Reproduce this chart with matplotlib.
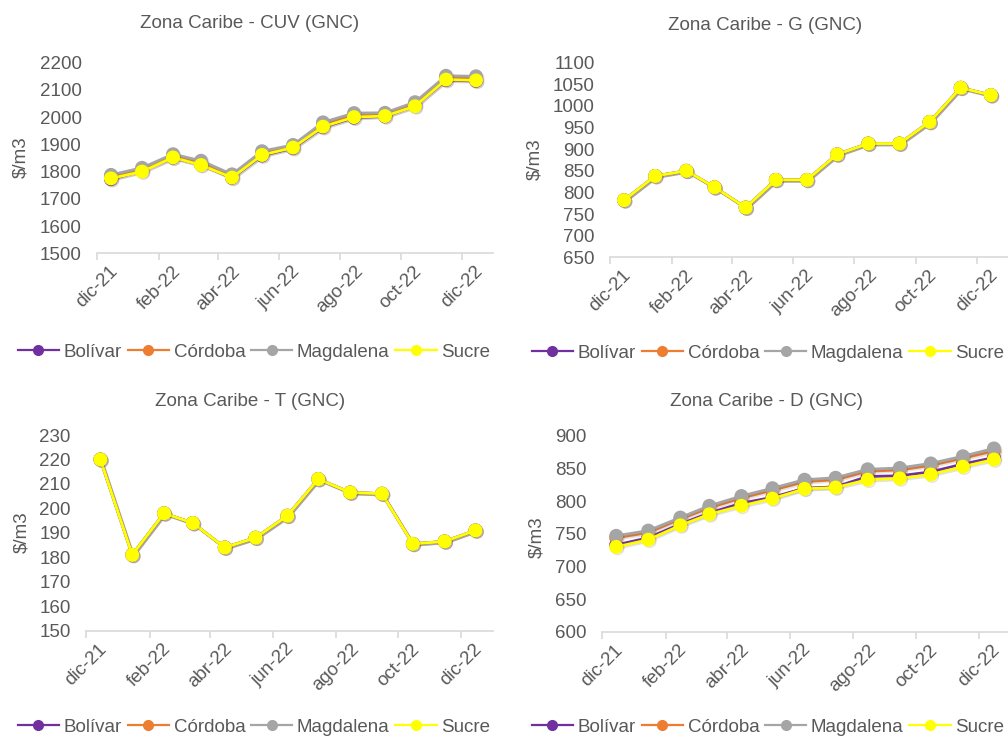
import matplotlib.pyplot as plt
import matplotlib.patheffects as pe
from matplotlib.lines import Line2D
import pandas as pd

plt.rcParams['font.family'] = ['Liberation Sans', 'DejaVu Sans']

# Months (mid-month points) and tick positions
months = pd.to_datetime(["2021-12-15", "2022-01-15", "2022-02-15", "2022-03-15", "2022-04-15",
                         "2022-05-15", "2022-06-15", "2022-07-15", "2022-08-15", "2022-09-15",
                         "2022-10-15", "2022-11-15", "2022-12-15"])
tick_dates = pd.to_datetime(["2021-12-01", "2022-02-01", "2022-04-01", "2022-06-01",
                             "2022-08-01", "2022-10-01", "2022-12-01"])
tick_labels = ["dic-21", "feb-22", "abr-22", "jun-22", "ago-22", "oct-22", "dic-22"]

departments = ["Bolívar", "Córdoba", "Magdalena", "Sucre"]
colors = ["#7030A0", "#ED7D31", "#A5A5A5", "#FFFF00"]

# CUV
cuv_bolivar = [1772, 1803, 1851, 1825, 1777, 1859, 1886, 1963, 1998, 2003, 2041, 2136, 2133]
cuv_cordoba = [1781, 1808, 1858, 1832, 1784, 1868, 1893, 1974, 2008, 2010, 2048, 2145, 2142]
cuv_magdalena = [1788, 1814, 1864, 1840, 1790, 1875, 1898, 1981, 2015, 2016, 2055, 2152, 2150]
cuv_sucre = [1775, 1800, 1852, 1824, 1778, 1861, 1888, 1965, 2000, 2004, 2040, 2138, 2135]

# G (same for all departments)
g_vals = [782, 838, 850, 812, 765, 829, 829, 888, 913, 913, 963, 1042, 1025]

# T (same for all departments)
t_vals = [220, 181, 198, 194, 184, 188, 197, 212, 206.5, 206, 185.5, 186.5, 191]

# D
d_bolivar = [733, 744, 765, 782, 797, 806, 820, 822, 838, 839, 845, 857, 867]
d_cordoba = [744, 752, 773, 790, 805, 817, 830, 833, 846, 848, 855, 866, 877]
d_magdalena = [747, 755, 775, 793, 808, 820, 833, 836, 849, 851, 858, 869, 881]
d_sucre = [730, 741, 763, 780, 793, 804, 819, 821, 833, 835, 841, 853, 864]

W, H = 1008, 738
fig = plt.figure(figsize=(W / 100, H / 100), dpi=100)
text_color = "#595959"
fs = 13.5

charts = [
    # title, series, yticks, axes px (left, right, top, bottom), title px, ylabel px, legend px
    ("Zona Caribe - CUV (GNC)", [cuv_bolivar, cuv_cordoba, cuv_magdalena, cuv_sucre],
     list(range(1500, 2201, 100)), (97, 493, 62.7, 253.3), (250, 23), (21, 157), (254, 352)),
    ("Zona Caribe - G (GNC)", [g_vals, g_vals, g_vals, g_vals],
     list(range(650, 1101, 50)), (610, 1008, 62.7, 257.3), (765, 26), (535, 159), (768, 353)),
    ("Zona Caribe - T (GNC)", [t_vals, t_vals, t_vals, t_vals],
     list(range(150, 231, 10)), (86, 493, 435, 630.7), (250, 402), (22, 532), (254, 727)),
    ("Zona Caribe - D (GNC)", [d_bolivar, d_cordoba, d_magdalena, d_sucre],
     list(range(600, 901, 50)), (601.7, 1011.5, 436, 631.7), (766, 402), (537, 537), (768, 727)),
]

shadow = [pe.SimpleLineShadow(offset=(1.0, -1.0), shadow_color="#6b5a4a", alpha=0.18), pe.Normal()]

legend_handles = [Line2D([], [], color=c, lw=1.6, marker="o", markersize=7,
                         markerfacecolor=c, markeredgecolor=c) for c in colors]

for title, series, yticks, (l, r, t, b), (tx, ty), (lx, ly), (gx, gy) in charts:
    ax = fig.add_axes([l / W, 1 - b / H, (r - l) / W, (b - t) / H])
    for name, vals, c in zip(departments, series, colors):
        ax.plot(months, vals, color=c, lw=2, marker="o", markersize=9,
                markerfacecolor=c, markeredgecolor=c, label=name, path_effects=shadow)
    ax.set_ylim(yticks[0], yticks[-1])
    ax.set_yticks(yticks)
    ax.set_xlim(pd.Timestamp("2021-12-01"), pd.Timestamp("2023-01-01"))
    ax.set_xticks(tick_dates)
    ax.set_xticklabels(tick_labels, rotation=45)
    for s in ["left", "right", "top"]:
        ax.spines[s].set_visible(False)
    ax.spines["bottom"].set_color("#D9D9D9")
    ax.spines["bottom"].set_linewidth(1.2)
    ax.tick_params(axis="y", length=0, pad=11, labelsize=fs, labelcolor=text_color)
    ax.tick_params(axis="x", length=5, width=1.2, color="#D9D9D9", pad=2,
                   labelsize=fs, labelcolor=text_color)
    fig.text(tx / W, 1 - ty / H, title, ha="center", va="center", fontsize=fs, color=text_color)
    fig.text(lx / W, 1 - ly / H, "$/m3", ha="center", va="center", rotation=90,
             fontsize=fs, color=text_color)
    fig.legend(legend_handles, departments, loc="center", bbox_to_anchor=(gx / W, 1 - gy / H),
               ncol=4, frameon=False, fontsize=fs, labelcolor=text_color, handlelength=2.2,
               handletextpad=0.25, columnspacing=0.3, borderaxespad=0, borderpad=0)

fig.savefig("out.png", dpi=100)
